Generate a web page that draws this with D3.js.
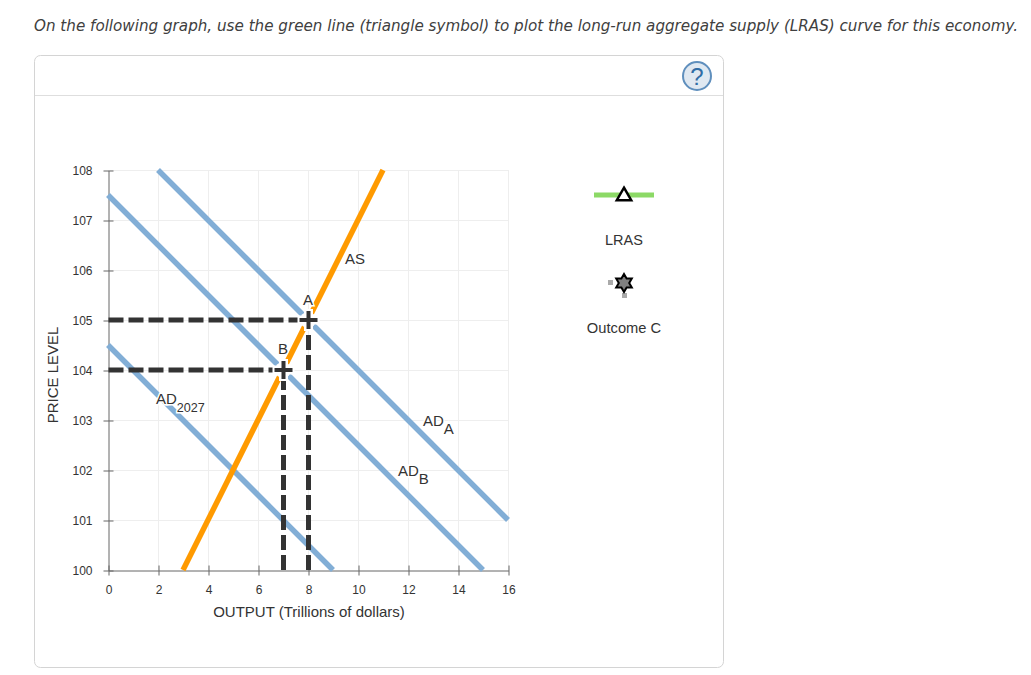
<!DOCTYPE html>
<html>
<head>
<meta charset="utf-8">
<script src="https://cdn.jsdelivr.net/npm/d3@7"></script>
<style>
  html, body { margin: 0; padding: 0; background: #fff; }
  svg { display: block; }
  text { font-family: "Liberation Sans", Arial, sans-serif; fill: #333; }
</style>
</head>
<body>
<svg id="chart" width="1031" height="675"></svg>
<script>
const titleText = "On the following graph, use the green line (triangle symbol) to plot the long-run aggregate supply (LRAS) curve for this economy.";
const xTicks = [0, 2, 4, 6, 8, 10, 12, 14, 16];
const yTicks = [100, 101, 102, 103, 104, 105, 106, 107, 108];

// curves as [output, price level]
const adA = [[2, 108], [16, 101]];
const adB = [[0, 107.5], [15, 100]];
const ad2027 = [[0, 104.5], [9, 100]];
const asCurve = [[3, 100], [11, 108]];
const points = [[8, 105], [7, 104]];

const svg = d3.select("#chart");

const x = d3.scaleLinear().domain([0, 16]).range([108, 508]);
const y = d3.scaleLinear().domain([100, 108]).range([570, 170]);
const line = d3.line().x(d => x(d[0])).y(d => y(d[1]));

// Question text and panel
svg.append("text")
  .attr("x", 34)
  .attr("y", 31)
  .style("font-family", "'DejaVu Sans', sans-serif")
  .style("font-style", "italic")
  .style("font-size", "15.16px")
  .style("fill", "#404040")
  .text(titleText);

svg.append("rect")
  .attr("x", 34.5)
  .attr("y", 55.5)
  .attr("width", 689)
  .attr("height", 612)
  .attr("rx", 6)
  .attr("fill", "#fff")
  .attr("stroke", "#d4d4d4");

svg.append("line")
  .attr("x1", 35)
  .attr("x2", 723)
  .attr("y1", 95.5)
  .attr("y2", 95.5)
  .attr("stroke", "#dedede");

// Help icon
svg.append("circle")
  .attr("cx", 697)
  .attr("cy", 76)
  .attr("r", 14)
  .attr("fill", "#dfe8f1")
  .attr("stroke", "#5f8fbd")
  .attr("stroke-width", 2);

svg.append("text")
  .attr("x", 697)
  .attr("y", 85)
  .attr("text-anchor", "middle")
  .style("font-size", "24px")
  .style("fill", "#2f6ca5")
  .text("?");

// Grid
svg.append("g")
  .selectAll("line")
  .data(xTicks.slice(1))
  .join("line")
  .attr("x1", d => x(d) + 0.5)
  .attr("x2", d => x(d) + 0.5)
  .attr("y1", y(108))
  .attr("y2", y(100))
  .attr("stroke", "#eeeeee");

svg.append("g")
  .selectAll("line")
  .data(yTicks.slice(1))
  .join("line")
  .attr("x1", x(0))
  .attr("x2", x(16))
  .attr("y1", d => y(d) + 0.5)
  .attr("y2", d => y(d) + 0.5)
  .attr("stroke", "#eeeeee");

// Axes
const xAxis = svg.append("g")
  .attr("transform", `translate(0.5,${y(100) + 0.5})`)
  .call(d3.axisBottom(x).tickValues(xTicks).tickSizeOuter(0).tickSizeInner(5).tickPadding(10));

const yAxis = svg.append("g")
  .attr("transform", `translate(${x(0) + 0.5},0.5)`)
  .call(d3.axisLeft(y).tickValues(yTicks).tickSizeOuter(0).tickSizeInner(5).tickPadding(11));

[xAxis, yAxis].forEach(axis => {
  axis.select(".domain").attr("stroke", "#666");
  axis.selectAll(".tick line").attr("stroke", "#666");
  axis.selectAll("text")
    .style("font-family", "'Liberation Sans', Arial, sans-serif")
    .style("font-size", "12px")
    .style("fill", "#333");
});

// ticks cross the axis line
xAxis.selectAll(".tick line").attr("y1", -5);
yAxis.selectAll(".tick line").attr("x1", 5);

svg.append("text")
  .attr("x", 309)
  .attr("y", 617)
  .attr("text-anchor", "middle")
  .style("font-size", "15px")
  .text("OUTPUT (Trillions of dollars)");

svg.append("text")
  .attr("transform", "translate(58,375) rotate(-90)")
  .attr("text-anchor", "middle")
  .style("font-size", "15px")
  .text("PRICE LEVEL");

// Curves
[adA, adB, ad2027].forEach(d => {
  svg.append("path")
    .attr("d", line(d))
    .attr("fill", "none")
    .attr("stroke", "#82aed6")
    .attr("stroke-width", 5.5);
});

svg.append("path")
  .attr("d", line(asCurve))
  .attr("fill", "none")
  .attr("stroke", "#ff9a00")
  .attr("stroke-width", 5.5);

// White gap where the curves meet the points
svg.append("g")
  .selectAll("circle")
  .data(points)
  .join("circle")
  .attr("cx", d => x(d[0]))
  .attr("cy", d => y(d[1]))
  .attr("r", 8)
  .attr("fill", "#fff");

// Dashed guide lines: horizontal part from the axis, vertical part from the bottom
points.forEach(p => {
  [[[0, p[1]], p], [[p[0], 100], p]].forEach(d => {
    svg.append("path")
      .attr("transform", "translate(0.5,0)")
      .attr("d", line(d))
      .attr("fill", "none")
      .attr("stroke", "#333")
      .attr("stroke-width", 5)
      .attr("stroke-dasharray", "15 5");
  });
});

// Cross markers
const crosses = svg.append("g")
  .selectAll("g")
  .data(points)
  .join("g")
  .attr("transform", d => `translate(${x(d[0]) + 0.5},${y(d[1])})`);

crosses.append("path")
  .attr("d", "M-11,0H11M0,-11V11")
  .attr("stroke", "#fff")
  .attr("stroke-width", 9);

crosses.append("path")
  .attr("d", "M-9,0H9M0,-9V9")
  .attr("stroke", "#333")
  .attr("stroke-width", 4);

// Curve labels
function addLabel(xPos, yPos, main, sub, subSize) {
  const t = svg.append("text")
    .attr("x", xPos)
    .attr("y", yPos)
    .attr("stroke", "#fff")
    .attr("stroke-width", 3)
    .style("paint-order", "stroke")
    .style("font-size", "15px")
    .text(main);
  if (sub) {
    t.append("tspan")
      .attr("dy", 8)
      .style("font-size", subSize)
      .text(sub);
  }
}

addLabel(345, 264, "AS");
addLabel(303, 305, "A");
addLabel(278, 354, "B");
addLabel(156, 404, "AD", "2027", "12.6px");
addLabel(423, 426, "AD", "A", "15px");
addLabel(398, 476, "AD", "B", "15px");

// Legend
svg.append("line")
  .attr("x1", 594)
  .attr("x2", 654)
  .attr("y1", 195)
  .attr("y2", 195)
  .attr("stroke", "#8cd966")
  .attr("stroke-width", 5);

svg.append("path")
  .attr("transform", "translate(624,196)")
  .attr("d", d3.symbol(d3.symbolTriangle, 90))
  .attr("fill", "#fff")
  .attr("stroke", "#000")
  .attr("stroke-width", 2.5);

svg.append("text")
  .attr("x", 624)
  .attr("y", 245)
  .attr("text-anchor", "middle")
  .style("font-size", "14.5px")
  .text("LRAS");

svg.append("rect")
  .attr("x", 608)
  .attr("y", 280)
  .attr("width", 5)
  .attr("height", 5)
  .attr("fill", "#aaa");

svg.append("rect")
  .attr("x", 622)
  .attr("y", 293)
  .attr("width", 5)
  .attr("height", 5)
  .attr("fill", "#aaa");

svg.append("path")
  .attr("transform", "translate(624,283)")
  .attr("d", "M0,-9L2.6,-4.5L7.8,-4.5L5.2,0L7.8,4.5L2.6,4.5L0,9L-2.6,4.5L-7.8,4.5L-5.2,0L-7.8,-4.5L-2.6,-4.5Z")
  .attr("fill", "#808080")
  .attr("stroke", "#000")
  .attr("stroke-width", 2);

svg.append("text")
  .attr("x", 624)
  .attr("y", 333)
  .attr("text-anchor", "middle")
  .style("font-size", "14.7px")
  .text("Outcome C");
</script>
</body>
</html>
